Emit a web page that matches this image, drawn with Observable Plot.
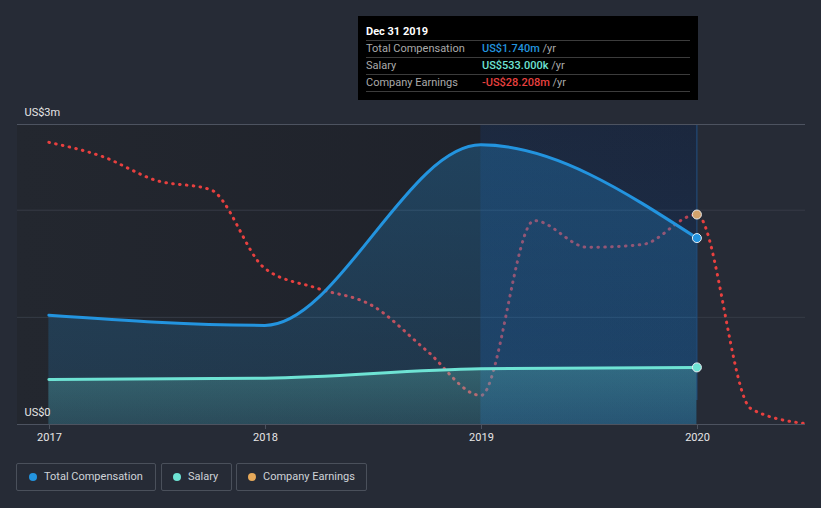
<!DOCTYPE html>
<html><head><meta charset="utf-8">
<script src="https://cdn.jsdelivr.net/npm/d3@7"></script>
<script src="https://cdn.jsdelivr.net/npm/@observablehq/plot@0.6"></script>
<style>
html,body{margin:0;padding:0;background:#262b36;}
#wrap{position:relative;width:821px;height:508px;overflow:hidden;font-family:Roboto,"Open Sans",sans-serif;}
#chart{position:absolute;left:0;top:0;}
#tip{position:absolute;left:358px;top:16px;width:340px;height:84px;background:#000;color:#aaa;font-size:11px;}
#tip .t{position:absolute;left:8px;top:9px;color:#fff;font-weight:bold;font-size:11px;}
#tip .ln{position:absolute;left:8px;width:324px;height:1px;background:#3c3c3c;}
#tip .lab{position:absolute;left:8px;}
#tip .val{position:absolute;left:124px;font-weight:500;}
#tip .val span{font-weight:normal;color:#aaa;}
.leg{position:absolute;top:463px;height:26px;border:1px solid #4a505b;border-radius:2px;color:#cfd3d8;font-size:11px;line-height:26px;box-sizing:content-box;}
.leg i{position:absolute;top:9px;width:8px;height:8px;border-radius:50%;}
.leg b{position:absolute;font-weight:normal;white-space:nowrap;}
</style></head>
<body><div id="wrap"><div id="chart"></div>
<div id="tip">
 <div class="t">Dec 31 2019</div>
 <div class="ln" style="top:24px"></div>
 <div class="lab" style="top:26px">Total Compensation</div><div class="val" style="top:26px;color:#2394df">US$1.740m <span>/yr</span></div>
 <div class="ln" style="top:41px"></div>
 <div class="lab" style="top:43px">Salary</div><div class="val" style="top:43px;color:#6ee3d4">US$533.000k <span>/yr</span></div>
 <div class="ln" style="top:58px"></div>
 <div class="lab" style="top:60px">Company Earnings</div><div class="val" style="top:60px;color:#e8403f">-US$28.208m <span>/yr</span></div>
 <div class="ln" style="top:75px"></div>
</div>
<div class="leg" style="left:16px;width:138px"><i style="left:12px;background:#2394df"></i><b style="left:27px">Total Compensation</b></div>
<div class="leg" style="left:161px;width:69px"><i style="left:11px;background:#6ee3d4"></i><b style="left:26px">Salary</b></div>
<div class="leg" style="left:236px;width:129px"><i style="left:11px;background:#e6a95a"></i><b style="left:26px">Company Earnings</b></div>
</div>
<script>
// ---- data ----
const compDates = ["2016-12-31","2017-12-31","2018-12-31","2019-12-31"];
const compValues = [1.02, 0.925, 2.61, 1.74];      // US$m
const salaryValues = [0.42, 0.432, 0.52, 0.533];    // US$m
const earnDates = ["2016-12-31","2017-03-31","2017-06-30","2017-09-30","2017-12-31","2018-03-31","2018-06-30","2018-09-30","2018-12-31","2019-03-31","2019-06-30","2019-09-30","2019-12-31","2020-03-31","2020-06-30"];
const earnValues = [-5.6,-10.0,-17.5,-20.4,-45.1,-51.4,-56.7,-70.8,-84.9,-30.1,-38.5,-37.6,-28.208,-89.0,-93.7]; // US$m
const yTickLabels = [{v:0,label:"US$0"},{v:2.8,label:"US$3m"}];
const xDomain = [new Date("2016-11-08T00:00Z"), new Date("2020-07-01T12:00Z")];
const yMax = 2.8;
const earnDomain = [-94, 0];

const P = d => new Date(d + "T00:00Z");
const comp = compDates.map((d,i)=>({date:P(d), comp:compValues[i], salary:salaryValues[i]}));
const earnToY = d3.scaleLinear().domain(earnDomain).range([0, yMax]);
const earn = earnDates.map((d,i)=>({date:P(d), e:earnValues[i], y:earnToY(earnValues[i])}));
const last = comp[comp.length-1];
const lastE = earn[12];

const defs = () => {
  const g = d3.create("svg:defs");
  const mk = (id, stops) => {
    const lg = g.append("linearGradient").attr("id", id).attr("x1",0).attr("x2",0).attr("y1",0).attr("y2",1);
    stops.forEach(([o,c,a]) => lg.append("stop").attr("offset",o).attr("stop-color",c).attr("stop-opacity",a));
  };
  mk("band", [[0,"#124490",0.2],[1,"#1a5aa8",0.3]]);
  mk("compG", [[0,"#2394df",0.28],[1,"#2394df",0.16]]);
  mk("salG", [[0,"#6ee3d4",0.25],[1,"#6ee3d4",0.12]]);
  const lh = g.append("linearGradient").attr("id","dark").attr("x1",0).attr("x2",1).attr("y1",0).attr("y2",0);
  lh.append("stop").attr("offset",0).attr("stop-color","#23272f");
  lh.append("stop").attr("offset",1).attr("stop-color","#1d2029");
  return g.node();
};

const chart = Plot.plot({
  width: 821, height: 455,
  marginTop: 124, marginBottom: 31, marginLeft: 17, marginRight: 16,
  style: {background: "transparent", fontFamily: "Roboto, sans-serif", fontSize: "11px", overflow: "visible"},
  x: {type: "utc", domain: xDomain},
  y: {domain: [0, yMax], axis: null},
  marks: [
    defs,
    Plot.rect([{a: xDomain[0], b: last.date}], {x1: "a", x2: "b", y1: 0, y2: yMax, fill: "url(#dark)"}),
    Plot.ruleY([1, 2], {stroke: "#363b46", strokeWidth: 1}),
    Plot.line(earn, {x: "date", y: "y", curve: "monotone-x", stroke: "#e8403f", strokeWidth: 3, strokeDasharray: "0.6 6.3", strokeLinecap: "round"}),
    Plot.rect([{a: comp[2].date, b: last.date}], {x1: "a", x2: "b", y1: 0, y2: yMax, fill: "url(#band)"}),
    Plot.ruleX([last.date], {y1: 0, y2: yMax, insetTop: -24, stroke: "#1f4f86", strokeWidth: 1}),
    Plot.areaY(comp, {x: "date", y: "comp", curve: "monotone-x", fill: "url(#compG)"}),
    Plot.areaY(comp, {x: "date", y: "salary", curve: "monotone-x", fill: "url(#salG)"}),
    Plot.ruleY([yMax], {stroke: "#4d5360"}),
    Plot.ruleY([0], {stroke: "#4d5360"}),
    Plot.line(comp, {x: "date", y: "comp", curve: "monotone-x", stroke: "#2394df", strokeWidth: 3}),
    Plot.line(comp, {x: "date", y: "salary", curve: "monotone-x", stroke: "#6ee3d4", strokeWidth: 3}),
    Plot.dot([lastE], {x: "date", y: "y", r: 4.5, fill: "#d2a26c", stroke: "#e8e8e8", strokeWidth: 1}),
    Plot.dot([last], {x: "date", y: "comp", r: 4.5, fill: "#2394df", stroke: "#e8eef4", strokeWidth: 1}),
    Plot.dot([last], {x: "date", y: "salary", r: 4.5, fill: "#6ee3d4", stroke: "#e8eef4", strokeWidth: 1}),
    Plot.axisX({ticks: d3.utcYear.every(1), tickFormat: "%Y", tickSize: 5, tickPadding: 4, stroke: "#4d5360", fill: "#e6e6e6", fontSize: 11, label: null}),
    Plot.text(yTickLabels, {y: "v", text: "label", frameAnchor: "left", dx: 7, dy: -12, textAnchor: "start", fill: "#e6e6e6", fontSize: 11})
  ]
});
document.getElementById("chart").appendChild(chart);
</script></body></html>
